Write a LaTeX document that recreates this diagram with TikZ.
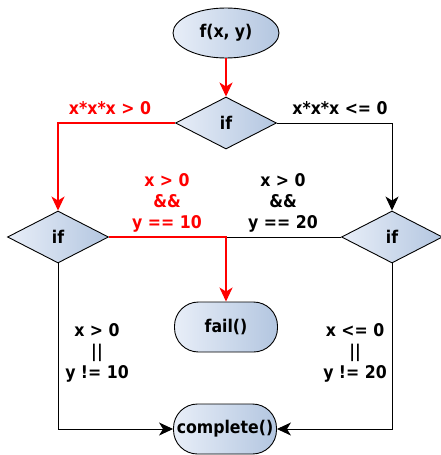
\documentclass[tikz,border=0pt]{standalone}
\usepackage{fontspec}
\setmainfont{DejaVu Sans Condensed}[BoldFont={DejaVu Sans Condensed Bold}]
\usetikzlibrary{shapes.geometric,arrows.meta}
\definecolor{lightfill}{HTML}{E8EEF8}
\definecolor{darkfill}{HTML}{B3C6E0}
\begin{document}
\begin{tikzpicture}[x=1pt,y=-1pt,
  every node/.style={font=\fontsize{17.5}{21}\selectfont\bfseries},
  shaded/.style={draw=black,line width=0.9pt,left color=lightfill,right color=darkfill,inner sep=0pt},
  startbox/.style={shaded,ellipse,minimum width=106pt,minimum height=50pt},
  decision/.style={shaded,diamond,aspect=2,minimum width=101pt,minimum height=52pt},
  terminal/.style={shaded,rectangle,rounded corners=24pt,minimum width=103pt,minimum height=50pt},
  plain/.style={draw=black,line width=0.9pt},
  hot/.style={draw=red,line width=2pt},
  arr/.style={-{Stealth[length=14pt,width=13pt,inset=4pt]}},
  lbl/.style={align=center,inner sep=0pt}
]
\useasboundingbox (0,0) rectangle (441,455);
\node[startbox] (f) at (226,33) {f(x,\kern0.3em y)};
\node[decision] (d1) at (226,123) {if};
\node[decision] (d2) at (58,237) {if};
\node[decision] (d3) at (392,237) {if};
\node[terminal] (fail) at (226,327) {fail()};
\node[terminal] (comp) at (225,429) {complete()};
\coordinate (j) at (226,237);

\draw[plain,arr] (d1.east) -| (d3.north);
\draw[plain] (d3.west) -- (j);
\draw[plain,arr] (d2.south) |- (comp.west);
\draw[plain,arr] (d3.south) |- (comp.east);
\draw[hot,arr,red] (f) -- (d1);
\draw[hot,arr,red] (d1.west) -| (d2.north);
\draw[hot,arr,red] (d2.east) -| (fail.north);

\node[lbl,text=red] (l1) at (110,108) {x*x*x > 0};
\node[lbl] (l2) at (340,108) {x*x*x <= 0};
\node[lbl,text=red] (l3) at (167,203) {x > 0\\\&\&\\y == 10};
\node[lbl] (l4) at (283,203) {x > 0\\\&\&\\y == 20};
\node[lbl] (l5) at (97,353) {x > 0\\||\\y != 10};
\node[lbl] (l6) at (355,353) {x <= 0\\||\\y != 20};
\end{tikzpicture}
\end{document}
